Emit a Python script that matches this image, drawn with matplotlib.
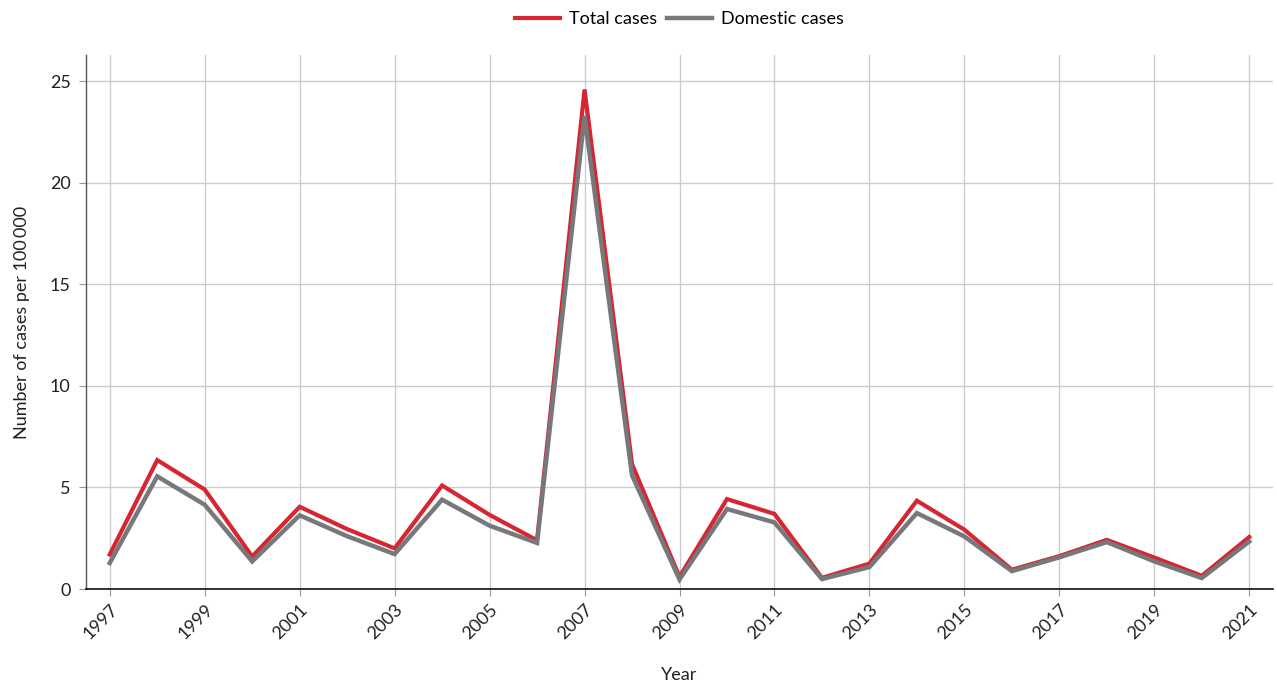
import matplotlib
matplotlib.use("Agg")
import matplotlib.pyplot as plt
from matplotlib.lines import Line2D

plt.rcParams['font.family'] = ['Lato', 'DejaVu Sans']

years = list(range(1997, 2022))
total_cases = [1.7, 6.35, 4.9, 1.6, 4.05, 2.95, 2.0, 5.1, 3.65, 2.4, 24.6,
               6.15, 0.6, 4.43, 3.7, 0.55, 1.25, 4.35, 2.92, 0.95, 1.62,
               2.42, 1.55, 0.65, 2.56]
domestic_cases = [1.28, 5.55, 4.15, 1.36, 3.63, 2.6, 1.72, 4.4, 3.12, 2.27, 23.3,
                  5.6, 0.47, 3.94, 3.28, 0.49, 1.08, 3.74, 2.59, 0.88, 1.56,
                  2.31, 1.36, 0.54, 2.34]
series_labels = ["Total cases", "Domestic cases"]
xtick_years = list(range(1997, 2022, 2))
yticks = [0, 5, 10, 15, 20, 25]

RED = "#d52631"
GRAY = "#77787b"
FS = 13

fig = plt.figure(figsize=(12.77, 6.88), dpi=100)
ax = fig.add_axes([86/1277, 99/688, (1273-86)/1277, (589-55)/688])

ax.plot(years, total_cases, color=RED, lw=3.0, solid_joinstyle='miter', zorder=3)
ax.plot(years, domestic_cases, color=GRAY, lw=3.2, solid_joinstyle='miter', zorder=4)

ax.set_xlim(1996.5, 2021.5)
ax.set_ylim(0, 26.3)
ax.set_xticks(xtick_years)
ax.set_xticklabels([str(y) for y in xtick_years], rotation=45, ha='right',
                   rotation_mode='anchor', fontsize=FS)
ax.set_yticks(yticks)
ax.set_yticklabels([str(v) for v in yticks], fontsize=FS)

ax.grid(True, color="#cccccc", lw=1.0, zorder=0)
ax.set_axisbelow(True)
for s in ['top', 'right']:
    ax.spines[s].set_visible(False)
ax.spines['left'].set_color("#555555")
ax.spines['bottom'].set_color("#111111")
ax.spines['left'].set_linewidth(1.0)
ax.spines['bottom'].set_linewidth(1.2)
ax.tick_params(axis='x', length=5, color="#999999", pad=4, labelcolor="#222222")
ax.tick_params(axis='y', length=5, color="#999999", pad=6, labelcolor="#222222")

ax.set_xlabel("Year", fontsize=FS, color="#222222", labelpad=18)
ax.set_ylabel("Number of cases per 100\u2009000", fontsize=FS, color="#222222", labelpad=14)

handles = [Line2D([0], [0], color=RED, lw=3.0), Line2D([0], [0], color=GRAY, lw=3.2)]
fig.legend(handles, series_labels, loc='center', bbox_to_anchor=(679.5/1277, 1 - 19/688),
           ncol=2, frameon=False, fontsize=FS, handlelength=2.5, handletextpad=0.5,
           columnspacing=0.5)

fig.savefig("out.png", dpi=100)
